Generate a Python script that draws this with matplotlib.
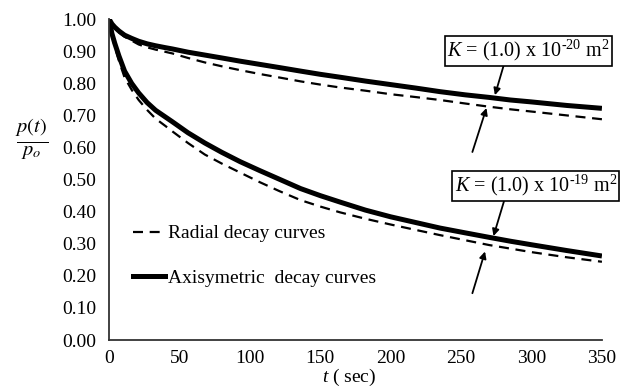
import matplotlib
matplotlib.use("Agg")
import matplotlib.pyplot as plt
from matplotlib.lines import Line2D

plt.rcParams['font.family'] = ['Liberation Serif', 'DejaVu Serif']
plt.rcParams['mathtext.fontset'] = 'custom'
plt.rcParams['mathtext.rm'] = 'Liberation Serif'
plt.rcParams['mathtext.it'] = 'Liberation Serif:italic'

# time (sec)
t = [0, 2, 4, 7, 11, 16, 21, 27, 33, 40, 45, 56, 68, 80, 93, 107, 121, 136, 150,
     164, 182, 200, 218, 235, 253, 270, 285, 300, 325, 350]

# K = 1e-20 m^2
axi_k20 = [1.000, 0.985, 0.975, 0.963, 0.950, 0.940, 0.931, 0.923, 0.917, 0.911,
           0.907, 0.897, 0.888, 0.879, 0.869, 0.859, 0.849, 0.838, 0.828, 0.819,
           0.807, 0.796, 0.785, 0.774, 0.764, 0.756, 0.748, 0.742, 0.731, 0.722]
rad_k20 = [1.000, 0.982, 0.971, 0.958, 0.945, 0.933, 0.921, 0.912, 0.905, 0.898,
           0.893, 0.879, 0.865, 0.853, 0.841, 0.829, 0.818, 0.806, 0.796, 0.787,
           0.777, 0.766, 0.757, 0.748, 0.737, 0.727, 0.719, 0.712, 0.700, 0.688]

# K = 1e-19 m^2
axi_k19 = [1.000, 0.955, 0.925, 0.885, 0.838, 0.800, 0.770, 0.740, 0.716, 0.695,
           0.680, 0.646, 0.614, 0.585, 0.556, 0.528, 0.501, 0.472, 0.450, 0.430,
           0.405, 0.384, 0.366, 0.349, 0.334, 0.320, 0.308, 0.297, 0.279, 0.262]
rad_k19 = [1.000, 0.950, 0.915, 0.870, 0.818, 0.780, 0.748, 0.717, 0.690, 0.667,
           0.650, 0.614, 0.578, 0.550, 0.522, 0.492, 0.464, 0.436, 0.416, 0.398,
           0.378, 0.360, 0.343, 0.327, 0.311, 0.296, 0.285, 0.274, 0.258, 0.244]

xticks = [0, 50, 100, 150, 200, 250, 300, 350]
yticks = [0.0, 0.1, 0.2, 0.3, 0.4, 0.5, 0.6, 0.7, 0.8, 0.9, 1.0]

fig = plt.figure(figsize=(6.27, 3.90), dpi=100)
ax = fig.add_axes([0.174, 0.128, 0.786, 0.823])

dash = (0, (4.5, 3))
ax.plot(t, rad_k20, color='black', lw=1.6, linestyle=dash)
ax.plot(t, rad_k19, color='black', lw=1.6, linestyle=dash)
ax.plot(t, axi_k20, color='black', lw=3.6, solid_capstyle='butt')
ax.plot(t, axi_k19, color='black', lw=3.6, solid_capstyle='butt')

ax.set_xlim(0, 350)
ax.set_ylim(0, 1.0)
ax.set_xticks(xticks)
ax.set_yticks(yticks)
ax.set_yticklabels([f"{v:.2f}" for v in yticks])
ax.tick_params(length=0, labelsize=14, pad=9)
ax.tick_params(axis='x', pad=7)
for s in ['top', 'right']:
    ax.spines[s].set_visible(False)
for s in ['left', 'bottom']:
    ax.spines[s].set_color('#333333')
    ax.spines[s].set_linewidth(1.3)

ax.set_xlabel(r'$t$ ( sec)', fontsize=14, labelpad=0, x=0.487)
fig.text(0.051, 0.645, r'$\frac{p(t)}{p_o}$', fontsize=21, math_fontfamily='stix',
         ha='center', va='center')

handles = [Line2D([], [], color='black', lw=1.6, linestyle=dash),
           Line2D([], [], color='black', lw=3.6)]
ax.legend(handles, ['Radial decay curves', 'Axisymetric  decay curves'],
          loc='center left', bbox_to_anchor=(0.048, 0.262), frameon=False,
          borderaxespad=0, borderpad=0, fontsize=14, handlelength=1.65,
          handletextpad=0.15, labelspacing=1.4)

box = dict(boxstyle='square,pad=0.12', fc='white', ec='black', lw=1.2)
arrow = dict(arrowstyle='-|>', color='black', lw=1.3, mutation_scale=10, shrinkA=0, shrinkB=0)

ax.annotate(r'$K$ = (1.0) x 10$^{\text{-20}}$ m$^{\text{2}}$',
            xy=(274, 0.763), xytext=(298, 0.902), fontsize=14.5, ha='center', va='center',
            bbox=box, arrowprops=dict(arrow, relpos=(0.35, 0)))
ax.annotate('', xy=(268, 0.723), xytext=(258, 0.586), arrowprops=arrow)

ax.annotate(r'$K$ = (1.0) x 10$^{\text{-19}}$ m$^{\text{2}}$',
            xy=(273, 0.324), xytext=(303, 0.481), fontsize=14.5, ha='center', va='center',
            bbox=box, arrowprops=dict(arrow, relpos=(0.31, 0)))
ax.annotate('', xy=(267, 0.276), xytext=(258, 0.146), arrowprops=arrow)

fig.savefig('out.png', dpi=100)
